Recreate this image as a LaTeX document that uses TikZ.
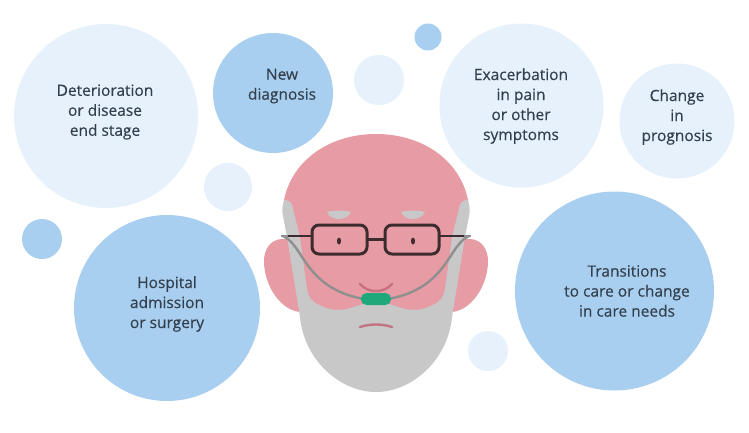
\documentclass[tikz,border=0pt]{standalone}
\usepackage{fontspec}
\setmainfont{Open Sans}[FakeBold=0.35]
\definecolor{lightc}{HTML}{E6F1FB}
\definecolor{bluec}{HTML}{A9CFF0}
\definecolor{pinkc}{HTML}{E79BA4}
\definecolor{grayc}{HTML}{C8C8C8}
\definecolor{tubec}{HTML}{8F8F8F}
\definecolor{darkc}{HTML}{3D2C2E}
\definecolor{greenc}{HTML}{1FA97A}
\definecolor{rosec}{HTML}{C4727F}
\definecolor{textc}{HTML}{33404D}
\tikzset{
  lightdot/.style={fill=lightc,draw=none},
  bluedot/.style={fill=bluec,draw=none},
  label/.style={align=center,text=textc,font=\fontsize{15.5}{20}\selectfont,inner sep=0pt},
  rim/.style={draw=darkc,line width=3pt,rounded corners=7pt},
  tube/.style={draw=tubec,line width=2.4pt,line cap=round},
  soft/.style={draw=rosec,line width=2.4pt,line cap=round}
}
\begin{document}
\begin{tikzpicture}[x=1pt,y=-1pt]
\useasboundingbox (0,0) rectangle (749,432);
\fill[white] (0,0) rectangle (749,432);
% circles
\fill[lightdot] (106,116) circle (92);
\fill[bluedot] (273,93) circle (60);
\fill[lightdot] (379,80) circle (25);
\fill[bluedot] (428,37) circle (13.5);
\fill[lightdot] (521.5,105.5) circle (82);
\fill[lightdot] (677,121) circle (57.5);
\fill[lightdot] (228,187) circle (24);
\fill[bluedot] (42,239) circle (20);
\fill[bluedot] (167,308) circle (93);
\fill[bluedot] (614.5,291) circle (99.5);
\fill[lightdot] (488,351) circle (20);
% ears
\fill[pinkc] (281,239) .. controls (270,240) and (264,250) .. (264,261)
  .. controls (264,285) and (280,310) .. (300,312) -- (310,240) -- cycle;
\fill[pinkc] (471,239) .. controls (482,240) and (488,250) .. (488,261)
  .. controls (488,285) and (472,310) .. (452,312) -- (442,240) -- cycle;
% beard
\fill[grayc] (284,200) .. controls (282,206) and (282,212) .. (283,216)
  -- (287,237) -- (300,317)
  .. controls (304,360) and (340,392) .. (376,392)
  .. controls (412,392) and (448,360) .. (452,317)
  -- (465,237) -- (469,216)
  .. controls (470,212) and (470,206) .. (468,200) -- cycle;
% face
\fill[pinkc] (284,200) .. controls (292,160) and (330,134) .. (376,134)
  .. controls (422,134) and (460,160) .. (468,200)
  .. controls (464,200) and (461,201) .. (460,204)
  -- (452,237) -- (445,288)
  .. controls (444,298) and (438,303) .. (430,306)
  .. controls (420,311) and (408,311) .. (396,306)
  .. controls (385,302) and (367,302) .. (356,306)
  .. controls (344,311) and (332,311) .. (322,306)
  .. controls (314,303) and (308,298) .. (307,288)
  -- (300,237) -- (292,204)
  .. controls (291,201) and (288,200) .. (284,200) -- cycle;
% eyebrows
\fill[grayc] (327,212) .. controls (334,210) and (344,210) .. (351,212)
  .. controls (349,217) and (343,219) .. (339,219)
  .. controls (334,219) and (329,217) .. (327,212) -- cycle;
\fill[grayc] (401,212) .. controls (408,210) and (418,210) .. (425,212)
  .. controls (423,217) and (417,219) .. (413,219)
  .. controls (408,219) and (403,217) .. (401,212) -- cycle;
% glasses
\coordinate (armLa) at (281,236);
\coordinate (armLb) at (312,236);
\coordinate (armRa) at (471,236);
\coordinate (armRb) at (439,236);
\draw[draw=darkc,line width=2.6pt] (288,236) -- (armLb);
\draw[draw=darkc,line width=2.6pt] (armRb) -- (464,236);
\draw[draw=tubec,line width=2.6pt] (armLa) -- (288,236);
\draw[draw=tubec,line width=2.6pt] (464,236) -- (armRa);
\draw[draw=darkc,line width=3pt] (367,239.5) -- (385,239.5);
\draw[rim] (312,225) rectangle (367,254);
\draw[rim] (385,225) rectangle (439,254);
\fill[darkc] (339,241) ellipse (2 and 3.5);
\fill[darkc] (413,241) ellipse (2 and 3.5);
% nose and mouth
\draw[soft] (360,284) .. controls (366,290) and (371,291) .. (376,291)
  .. controls (381,291) and (386,290) .. (392,284);
\draw[soft] (360,327) .. controls (366,325) and (371,324.5) .. (376,324.5)
  .. controls (381,324.5) and (386,325) .. (392,327);
% oxygen tube
\draw[tube] (283,236) .. controls (296,242) and (300,258) .. (315,274)
  .. controls (328,288) and (345,296) .. (365,299);
\draw[tube] (469,236) .. controls (456,242) and (452,258) .. (437,274)
  .. controls (424,288) and (407,296) .. (387,299);
\fill[greenc,rounded corners=5.5pt] (361,293) rectangle (391,305);
% labels
\node[label] (deter) at (105,112) {Deterioration\\or disease\\end stage};
\node[label] (newd) at (282,86) {New\\diagnosis};
\node[label] (exac) at (521,106) {Exacerbation\\in pain\\or other\\symptoms};
\node[label] (chg) at (677,117) {Change\\in\\prognosis};
\node[label] (hosp) at (167,304) {Hospital\\admission\\or surgery};
\node[label] (trans) at (627,291) {Transitions\\to care or change\\in care needs};
\end{tikzpicture}
\end{document}
